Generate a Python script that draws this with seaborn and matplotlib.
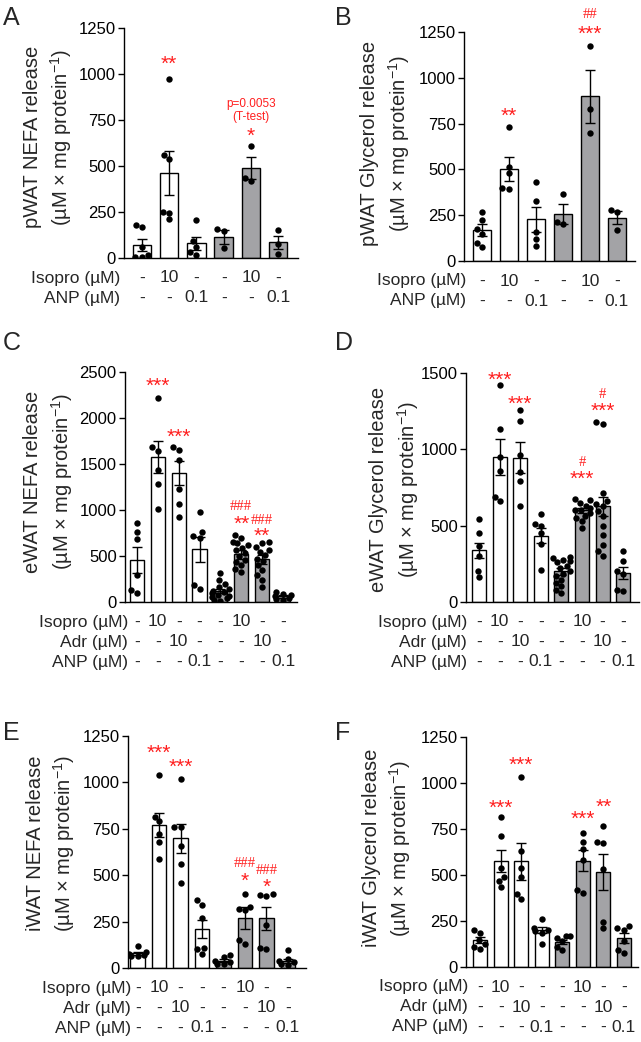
import warnings
import pandas as pd
import matplotlib.pyplot as plt
import seaborn as sns

warnings.filterwarnings("ignore")

# -----------------------------
# Data (mean, SEM, individual points)
# -----------------------------
rows_ab = ["Isopro (µM)", "ANP (µM)"]
isopro_ab = ["-", "10", "-", "-", "10", "-"]
anp_ab = ["-", "-", "0.1", "-", "-", "0.1"]

rows_cf = ["Isopro (µM)", "Adr (µM)", "ANP (µM)"]
isopro_cf = ["-", "10", "-", "-", "-", "10", "-", "-"]
adr_cf = ["-", "-", "10", "-", "-", "-", "10", "-"]
anp_cf = ["-", "-", "-", "0.1", "-", "-", "-", "0.1"]

a_means = [70, 462, 80, 112, 487, 85]
a_sems = [33, 120, 35, 38, 60, 35]
a_points = [[5, 8, 15, 60, 168, 182], [975, 560, 540, 250, 245, 210],
            [205, 90, 60, 30, 15], [155, 145, 55], [607, 418, 436], [152, 74, 22]]

b_means = [168, 500, 228, 257, 900, 237]
b_sems = [33, 65, 67, 55, 145, 37]
b_points = [[270, 225, 175, 150, 100, 75], [730, 515, 480, 400, 395],
            [430, 330, 160, 120, 80], [365, 215, 200], [1175, 830, 700], [280, 270, 170]]

c_means = [460, 1575, 1400, 575, 118, 520, 465, 60]
c_sems = [140, 170, 133, 135, 25, 48, 50, 15]
c_points = [[861, 756, 680, 291, 134, 102], [2220, 1680, 1640, 1430, 1280, 1010],
            [1690, 1650, 1540, 1230, 1060, 925], [974, 763, 712, 700, 182, 138],
            [310, 235, 200, 160, 140, 120, 110, 95, 80, 70, 55, 40, 25, 15],
            [730, 700, 650, 640, 620, 590, 560, 530, 500, 460, 436, 400, 363, 330],
            [654, 636, 600, 570, 545, 509, 472, 443, 400, 345, 290, 243, 163],
            [105, 90, 75, 60, 45, 35, 20]]

d_means = [338, 950, 945, 435, 200, 600, 628, 190]
d_sems = [48, 118, 100, 50, 20, 18, 62, 40]
d_points = [[546, 452, 370, 300, 205, 164], [1419, 1133, 950, 860, 690, 660],
            [1260, 1188, 960, 850, 790, 627], [576, 510, 495, 450, 380, 212],
            [295, 290, 277, 270, 260, 238, 223, 201, 186, 168, 146, 124, 103, 81, 59],
            [675, 666, 648, 631, 616, 605, 600, 583, 565, 550, 528, 485],
            [1180, 1165, 714, 659, 640, 627, 594, 561, 500, 441, 376, 332, 299],
            [332, 266, 201, 186, 81, 70]]

e_means = [80, 770, 700, 210, 40, 270, 268, 38]
e_sems = [8, 65, 78, 48, 8, 58, 61, 10]
e_points = [[120, 85, 75, 70, 65, 65], [1038, 815, 790, 720, 680, 585],
            [1016, 762, 760, 660, 560, 459], [365, 340, 270, 110, 100, 77],
            [70, 60, 40, 30, 20, 20], [397, 330, 320, 310, 149, 130],
            [400, 395, 390, 230, 110, 100], [95, 50, 40, 30, 20, 15]]

f_means = [145, 575, 575, 200, 135, 578, 518, 158]
f_sems = [17, 60, 100, 17, 12, 58, 97, 27]
f_points = [[199, 185, 145, 125, 110, 100], [815, 710, 540, 490, 470, 437],
            [1033, 630, 540, 490, 396, 370], [260, 210, 200, 195, 185, 126],
            [170, 170, 160, 140, 110, 90], [730, 681, 640, 580, 419, 401],
            [769, 681, 675, 530, 247, 211], [222, 210, 200, 140, 95, 76]]

# significance marks: (bar index, y value, text)
a_marks = [(1, 1070, "**"), (4, 836, "p=0.0053"), (4, 764, "(T-test)"), (4, 677, "*")]
b_marks = [(1, 807, "**"), (4, 1250, "***"), (4, 1344, "##")]
c_marks = [(1, 2369, "***"), (2, 1824, "***"), (5, 1036, "###"), (5, 872, "**"),
           (6, 890, "###"), (6, 745, "**")]
d_marks = [(1, 1472, "***"), (2, 1314, "***"), (5, 917, "#"), (5, 823, "***"),
           (6, 1362, "#"), (6, 1264, "***")]
e_marks = [(1, 1169, "***"), (2, 1094, "***"), (5, 563, "###"), (5, 482, "*"),
           (6, 523, "###"), (6, 450, "*")]
f_marks = [(1, 876, "***"), (2, 1109, "***"), (5, 820, "***"), (6, 883, "**")]

ticks_1250 = [0, 250, 500, 750, 1000, 1250]
ticks_2500 = [0, 500, 1000, 1500, 2000, 2500]
ticks_1500 = [0, 500, 1000, 1500]

unit = "(µM × mg protein$^{-1}$)"

# -----------------------------
# Style
# -----------------------------
sns.set_theme(style="ticks")
plt.rcParams["font.family"] = ["Liberation Sans", "DejaVu Sans"]
plt.rcParams["mathtext.fontset"] = "custom"
plt.rcParams["mathtext.rm"] = "Liberation Sans"
plt.rcParams["mathtext.it"] = "Liberation Sans:italic"
plt.rcParams["mathtext.bf"] = "Liberation Sans:bold"

W, H = 641, 1042
PT = 0.72  # points per pixel at 100 dpi
GREY = "#a3a3a7"
RED = "#ff1f1f"

fig = plt.figure(figsize=(W / 100, H / 100), dpi=100)


def draw_panel(box, means, sems, points, n_white, yticks, xlim, rows, row_vals,
               ylabel, ylab_xy, marks, letter, letter_xy, row_dx):
    left, right, top, bottom = box
    ax = fig.add_axes([left / W, 1 - bottom / H, (right - left) / W, (bottom - top) / H])
    n = len(means)
    grp = list(range(n))
    colors = ["white"] * n_white + [GREY] * (n - n_white)

    bars = pd.DataFrame({"grp": grp, "mean": means})
    sns.barplot(data=bars, x="grp", y="mean", hue="grp", palette=colors, legend=False,
                width=0.68, edgecolor="black", linewidth=1.0, errorbar=None, ax=ax)
    ax.errorbar(grp, means, yerr=sems, fmt="none", ecolor="black", elinewidth=1.0,
                capsize=3.5, capthick=1.0, zorder=3)

    pts = pd.DataFrame([(i, v) for i, vals in enumerate(points) for v in vals],
                       columns=["grp", "val"])
    sns.swarmplot(data=pts, x="grp", y="val", order=grp, color="black", size=4.6,
                  ax=ax, zorder=4)

    ax.set_xlim(*xlim)
    ax.set_ylim(0, yticks[-1])
    ax.set_yticks(yticks)
    ax.set_xticks([])
    ax.set_xlabel("")
    ax.set_ylabel("")
    sns.despine(ax=ax)
    for s in ["left", "bottom"]:
        ax.spines[s].set_linewidth(1.0)
        ax.spines[s].set_color("black")
    ax.tick_params(axis="y", length=4, width=1.0, labelsize=12, pad=2, colors="black")

    # treatment rows under the axis
    for r, (lab, vals) in enumerate(zip(rows, row_vals)):
        dy = -(20 + 20 * r) * PT
        ax.annotate(lab, xy=(0, 0), xycoords="axes fraction", xytext=(row_dx * PT, dy),
                    textcoords="offset points", ha="right", va="center", fontsize=12.5)
        for i, v in enumerate(vals):
            ax.annotate(v, xy=(i, 0), xycoords=("data", "axes fraction"), xytext=(0, dy),
                        textcoords="offset points", ha="center", va="center", fontsize=12.5)

    for i, y, txt in marks:
        if "#" in txt:
            ax.text(i, y, txt, ha="center", va="center", color=RED, fontsize=10.5,
                    family="Liberation Serif", clip_on=False)
        elif "*" in txt and "=" not in txt:
            ax.text(i, y - 15 * (yticks[-1] / 1250), txt, ha="center", va="center",
                    color=RED, fontsize=15, clip_on=False)
        else:
            ax.text(i, y, txt, ha="center", va="center", color=RED, fontsize=8.5, clip_on=False)

    fig.text(ylab_xy[0] / W, 1 - ylab_xy[1] / H, ylabel, rotation=90, ha="center",
             va="center", multialignment="center", fontsize=14.5, linespacing=1.35)
    fig.text(letter_xy[0] / W, 1 - letter_xy[1] / H, letter, fontsize=18, ha="left", va="top")
    return ax


draw_panel((124, 298, 28, 258), a_means, a_sems, a_points, 3, ticks_1250, (-0.66, 5.73),
           rows_ab, [isopro_ab, anp_ab], "pWAT NEFA release\n" + unit, (48.5, 137),
           a_marks, "A", (3, 6), -4)
draw_panel((464, 635, 32, 261), b_means, b_sems, b_points, 3, ticks_1250, (-0.67, 5.67),
           rows_ab, [isopro_ab, anp_ab], "pWAT Glycerol release\n" + unit, (386, 143.5),
           b_marks, "B", (335, 6), 2)
draw_panel((125, 297, 372, 602), c_means, c_sems, c_points, 4, ticks_2500, (-0.57, 7.67),
           rows_cf, [isopro_cf, adr_cf, anp_cf], "eWAT NEFA release\n" + unit, (49, 481.5),
           c_marks, "C", (3, 331), 3)
draw_panel((466, 639, 373, 602), d_means, d_sems, d_points, 4, ticks_1500, (-0.64, 7.77),
           rows_cf, [isopro_cf, adr_cf, anp_cf], "eWAT Glycerol release\n" + unit, (395, 489),
           d_marks, "D", (335, 331), 1)
draw_panel((128, 306, 736, 968), e_means, e_sems, e_points, 4, ticks_1250, (-0.45, 7.84),
           rows_cf, [isopro_cf, adr_cf, anp_cf], "iWAT NEFA release\n" + unit, (51.5, 843.5),
           e_marks, "E", (3, 721), 3)
draw_panel((466, 638, 737, 967), f_means, f_sems, f_points, 4, ticks_1250, (-0.69, 7.69),
           rows_cf, [isopro_cf, adr_cf, anp_cf], "iWAT Glycerol release\n" + unit, (387.5, 848),
           f_marks, "F", (335, 721), 2)

fig.savefig("out.png", dpi=100)
